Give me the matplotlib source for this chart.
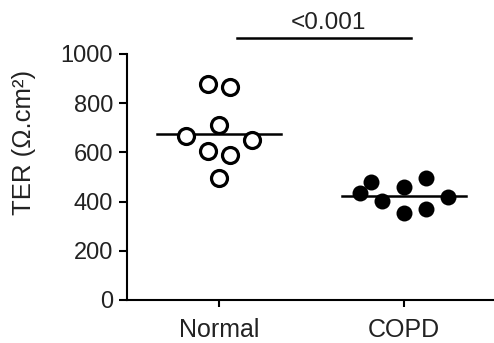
import matplotlib
matplotlib.use("Agg")
import matplotlib.pyplot as plt

plt.rcParams['font.family'] = ['Liberation Sans', 'DejaVu Sans']

categories = ["Normal", "COPD"]
normal_x = [0.94, 1.06, 1.00, 0.82, 1.18, 0.94, 1.06, 1.00]
normal_y = [878, 866, 713, 668, 652, 607, 591, 494]
copd_x = [1.76, 1.82, 1.88, 2.00, 2.00, 2.12, 2.12, 2.24]
copd_y = [435, 480, 402, 459, 354, 496, 370, 419]
line_values = [675, 423]
p_text = "<0.001"
y_ticks = [0, 200, 400, 600, 800, 1000]

W, H = 494, 343
fig = plt.figure(figsize=(W/100, H/100), dpi=100)
ax = fig.add_axes([127/W, 43/H, 366/W, 246/H])

ax.plot(normal_x, normal_y, 'o', ms=11.5, mfc='white', mec='black', mew=2.3, clip_on=False, zorder=3)
ax.plot(copd_x, copd_y, 'o', ms=11.5, mfc='black', mec='black', mew=0, clip_on=False, zorder=3)

for i, v in enumerate(line_values):
    c = i + 1
    ax.plot([c - 0.335, c + 0.335], [v, v], color='black', lw=1.8, zorder=2)

ax.plot([1.10, 2.04], [1065, 1065], color='black', lw=1.8, clip_on=False)
ax.text(1.59, 1083, p_text, ha='center', va='bottom', fontsize=17.5, color='#222222')

ax.set_xlim(0.503, 2.481)
ax.set_ylim(0, 1000)
ax.set_xticks([1, 2])
ax.set_xticklabels(categories, fontsize=18, color='#222222')
ax.set_yticks(y_ticks)
ax.set_yticklabels([str(t) for t in y_ticks], fontsize=17, color='#222222')
ax.tick_params(axis='y', length=6, width=1.5, pad=4)
ax.tick_params(axis='x', length=5, width=1.5, pad=8)
for s in ['top', 'right']:
    ax.spines[s].set_visible(False)
for s in ['left', 'bottom']:
    ax.spines[s].set_linewidth(1.5)

fig.text(24/W, 1 - 142/H, "TER (Ω.cm²)", rotation=90, ha='center', va='center', fontsize=18.5, color='#222222')

fig.savefig("out.png", dpi=100)
